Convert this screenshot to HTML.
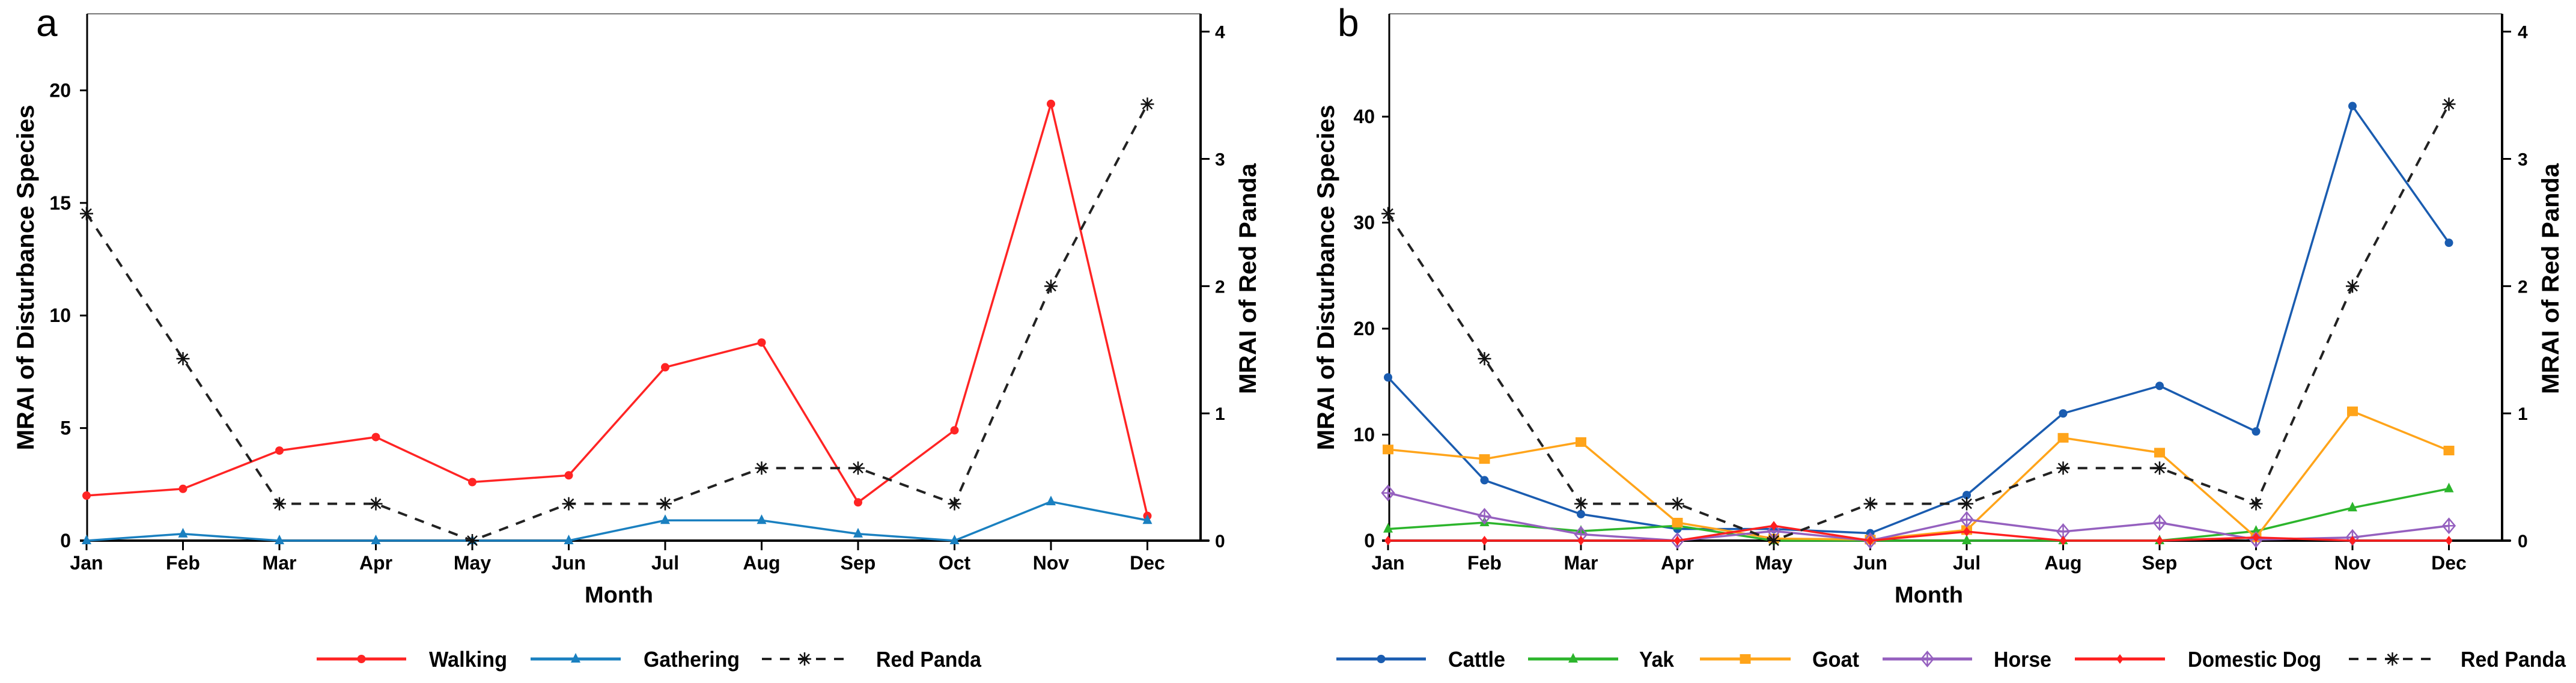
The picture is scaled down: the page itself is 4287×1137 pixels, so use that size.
<!DOCTYPE html>
<html><head><meta charset="utf-8">
<style>
html,body{margin:0;padding:0;background:#fff;}
svg{display:block;}
text{font-family:"Liberation Sans",Arial,sans-serif;}
</style></head>
<body>
<svg id="chart" width="4287" height="1137" viewBox="0 0 4287 1137" xmlns="http://www.w3.org/2000/svg">
<rect x="0" y="0" width="4287" height="1137" fill="#fff"/>
</svg>
<script>
const months = ["Jan","Feb","Mar","Apr","May","Jun","Jul","Aug","Sep","Oct","Nov","Dec"];
const walking   = [2.0, 2.3, 4.0, 4.6, 2.6, 2.9, 7.7, 8.8, 1.7, 4.9, 19.4, 1.1];
const gathering = [0, 0.3, 0, 0, 0, 0, 0.9, 0.9, 0.3, 0, 1.73, 0.9];
const redPanda  = [2.57, 1.43, 0.29, 0.29, 0, 0.29, 0.29, 0.57, 0.57, 0.29, 2.0, 3.43];
const cattle    = [15.4, 5.7, 2.5, 1.1, 1.1, 0.7, 4.3, 12.0, 14.6, 10.3, 41.0, 28.1];
const yak       = [1.1, 1.7, 0.9, 1.4, 0, 0, 0, 0, 0, 0.9, 3.1, 4.9];
const goat      = [8.6, 7.7, 9.3, 1.7, 0.2, 0.1, 1.0, 9.7, 8.3, 0.3, 12.2, 8.5];
const horse     = [4.5, 2.3, 0.6, 0, 0.9, 0, 2.0, 0.85, 1.7, 0.1, 0.3, 1.4];
const dog       = [0, 0, 0, 0, 1.4, 0, 0.85, 0, 0, 0.3, 0, 0];
const ticksA    = [0, 5, 10, 15, 20];
const ticksB    = [0, 10, 20, 30, 40];
const ticksR    = [0, 1, 2, 3, 4];

const NS = "http://www.w3.org/2000/svg";
const svg = document.getElementById("chart");
function el(tag, attrs, parent) {
  const e = document.createElementNS(NS, tag);
  for (const k in attrs) e.setAttribute(k, attrs[k]);
  (parent || svg).appendChild(e);
  return e;
}
function txt(str, attrs, parent) { const t = el("text", attrs, parent); t.textContent = str; return t; }

function marker(g, type, x, y, color) {
  let m;
  if (type === "circle") m = el("circle", {cx:x, cy:y, r:7, fill:color}, g);
  else if (type === "tri") m = el("path", {d:`M${x},${y-10} L${x+8},${y+6} L${x-8},${y+6} Z`, fill:color}, g);
  else if (type === "square") m = el("rect", {x:x-9, y:y-8, width:18, height:16, fill:color}, g);
  else if (type === "diamondx") {
    m = el("g", {}, g);
    el("path", {d:`M${x},${y-12} L${x+10},${y} L${x},${y+12} L${x-10},${y} Z M${x-10},${y} L${x+10},${y} M${x},${y-12} L${x},${y+12}`, fill:"none", stroke:color, "stroke-width":2.5}, m);
  }
  else if (type === "diamond") m = el("path", {d:`M${x},${y-8} L${x+6},${y} L${x},${y+8} L${x-6},${y} Z`, fill:color}, g);
  else if (type === "star") {
    m = el("path", {d:`M${x-11},${y} L${x+11},${y} M${x},${y-11} L${x},${y+11} M${x-8},${y-8} L${x+8},${y+8} M${x-8},${y+8} L${x+8},${y-8}`, stroke:"#111", "stroke-width":2.5, fill:"none"}, g);
  }
  
  
}

function panel(cfg) {
  const {x0, step, axL, axR, top, y0, leftMax, leftTicks, rightMax, series, letter, letterX, letterY, leftTickX, leftTitleX, rightTickX, rightTitleX, monthX, legend, name} = cfg;
  const g = el("g", {});
  
  
  const xs = i => x0 + i * step;
  const yL = v => y0 - v * (y0 - top) / leftMax;
  const yR = v => y0 - v * (y0 - top) / rightMax;
  const frame = el("path", {d:`M${axL},${top} L${axR},${top}`, stroke:"#777", "stroke-width":2, fill:"none"}, g);
  
  
  const la = el("line", {x1:axL, y1:top, x2:axL, y2:y0, stroke:"#000", "stroke-width":3}, g);
  
  
  const ra = el("line", {x1:axR, y1:top, x2:axR, y2:y0, stroke:"#000", "stroke-width":4}, g);
  
  
  const xa = el("line", {x1:axL - 12, y1:y0, x2:axR + 14, y2:y0, stroke:"#000", "stroke-width":4}, g);
  
  
  leftTicks.forEach(v => {
    const y = yL(v);
    const t = el("line", {x1:axL - 12, y1:y, x2:axL, y2:y, stroke:"#000", "stroke-width":3}, g);
    
    
    const l = txt(String(v), {x:leftTickX, y:y + 11, "text-anchor":"end", "font-size":32, "font-weight":"bold"}, g);
    
    
  });
  ticksR.forEach(v => {
    const y = yR(v);
    const t = el("line", {x1:axR, y1:y, x2:axR + 15, y2:y, stroke:"#000", "stroke-width":3}, g);
    
    
    const l = txt(String(v), {x:rightTickX, y:y + 11, "font-size":30, "font-weight":"bold"}, g);
    
    
  });
  months.forEach((m, i) => {
    const x = xs(i);
    const t = el("line", {x1:x, y1:y0, x2:x, y2:y0 + 16, stroke:"#000", "stroke-width":3}, g);
    
    
    const l = txt(m, {x:x, y:y0 + 48, "text-anchor":"middle", "font-size":32, "font-weight":"bold"}, g);
    
    
  });
  const lt = txt("MRAI of Disturbance Species", {x:0, y:0, "text-anchor":"middle", "font-size":40, "font-weight":"bold", textLength:575, lengthAdjust:"spacingAndGlyphs", transform:`translate(${leftTitleX},462) rotate(-90)`}, g);
  
  
  const rt = txt("MRAI of Red Panda", {x:0, y:0, "text-anchor":"middle", "font-size":40, "font-weight":"bold", textLength:384, lengthAdjust:"spacingAndGlyphs", transform:`translate(${rightTitleX},464) rotate(-90)`}, g);
  
  
  const mt = txt("Month", {x:monthX, y:1003, "text-anchor":"middle", "font-size":38, "font-weight":"bold"}, g);
  
  
  const pl = txt(letter, {x:letterX, y:letterY, "font-size":64, "font-family":"Liberation Serif, serif"}, g);
  
  
  series.forEach(s => {
    const sg = el("g", {}, g);
    
    
    const yf = s.right ? yR : yL;
    const pts = s.data.map((v, i) => `${xs(i)},${yf(v)}`).join(" ");
    const attrs = {points:pts, fill:"none", stroke:s.color, "stroke-width":s.w || 3.5, "stroke-linejoin":"round"};
    if (s.dash) attrs["stroke-dasharray"] = "16 14";
    const pl2 = el("polyline", attrs, sg);
    
    
    s.data.forEach((v, i) => marker(sg, s.marker, xs(i), yf(v), s.color));
  });
  legend.forEach(item => {
    const s = series.find(q => q.id === item.id);
    const lg = el("g", {}, g);
    
    
    const ly = 1097;
    const a = {x1:item.x1, y1:ly, x2:item.x2, y2:ly, stroke:s.color, "stroke-width":s.dash ? 4 : 5};
    if (s.dash) a["stroke-dasharray"] = "16 14";
    el("line", a, lg);
    marker(lg, s.marker, (item.x1 + item.x2) / 2, ly, s.color);
    const t = txt(s.label, {x:item.tx, y:ly + 13, "font-size":36, "font-weight":"bold", textLength:item.tw, lengthAdjust:"spacingAndGlyphs"}, lg);
    
    
  });
}

panel({
  name:"panel-a", x0:144, step:160.5, axL:145, axR:1998, top:23, y0:900, leftMax:23.4, leftTicks:ticksA, rightMax:4.14,
  letter:"a", letterX:60, letterY:60, leftTickX:118, leftTitleX:56, rightTickX:2022, rightTitleX:2090, monthX:1030,
  series:[
    {id:"walking", label:"Walking", data:walking, color:"#ff2424", marker:"circle"},
    {id:"gathering", label:"Gathering", data:gathering, color:"#1a80c0", marker:"tri"},
    {id:"red-panda", label:"Red Panda", data:redPanda, color:"#222", marker:"star", dash:true, right:true, w:4}
  ],
  legend:[
    {id:"walking", x1:527, x2:676, tx:714, tw:130},
    {id:"gathering", x1:883, x2:1033, tx:1071, tw:160},
    {id:"red-panda", x1:1268, x2:1410, tx:1458, tw:175}
  ]
});
panel({
  name:"panel-b", x0:2310, step:160.5, axL:2312, axR:4164, top:23, y0:900, leftMax:49.7, leftTicks:ticksB, rightMax:4.14,
  letter:"b", letterX:2226, letterY:60, leftTickX:2288, leftTitleX:2220, rightTickX:4190, rightTitleX:4258, monthX:3210,
  series:[
    {id:"cattle", label:"Cattle", data:cattle, color:"#1a5cb0", marker:"circle"},
    {id:"yak", label:"Yak", data:yak, color:"#2cb52c", marker:"tri"},
    {id:"goat", label:"Goat", data:goat, color:"#ffa41a", marker:"square"},
    {id:"horse", label:"Horse", data:horse, color:"#9560bf", marker:"diamondx"},
    {id:"domestic-dog", label:"Domestic Dog", data:dog, color:"#ff1f1f", marker:"diamond"},
    {id:"red-panda", label:"Red Panda", data:redPanda, color:"#222", marker:"star", dash:true, right:true, w:4}
  ],
  legend:[
    {id:"cattle", x1:2224, x2:2373, tx:2410, tw:95},
    {id:"yak", x1:2543, x2:2693, tx:2728, tw:58},
    {id:"goat", x1:2829, x2:2980, tx:3016, tw:78},
    {id:"horse", x1:3133, x2:3282, tx:3318, tw:96},
    {id:"domestic-dog", x1:3453, x2:3603, tx:3641, tw:222},
    {id:"red-panda", x1:3909, x2:4054, tx:4095, tw:175}
  ]
});
</script>
</body></html>
